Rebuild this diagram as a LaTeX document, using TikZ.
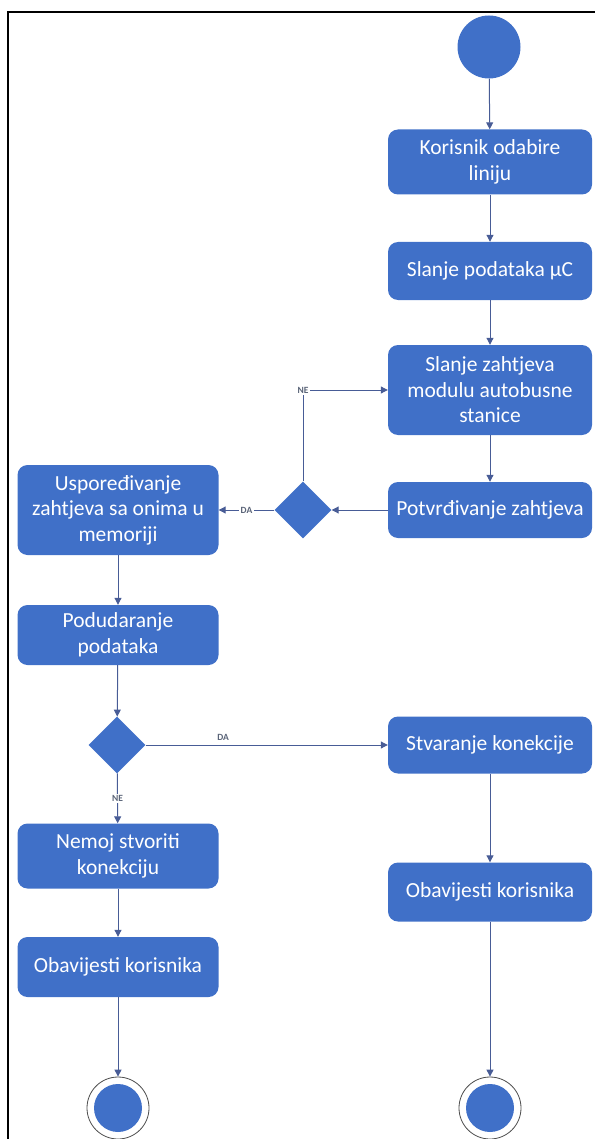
\documentclass[tikz,border=0pt]{standalone}
\usepackage{fontspec}
\setmainfont{Carlito}
\usetikzlibrary{shapes.geometric,arrows.meta}
\definecolor{boxblue}{RGB}{64,112,200}
\definecolor{arrowc}{RGB}{72,92,150}
\definecolor{labelc}{RGB}{90,100,120}
\tikzset{
  actbox/.style={draw=none, fill=boxblue, rounded corners=10pt, minimum width=204pt,
    text=white, font=\fontsize{21.5}{25.5}\selectfont, align=center, inner sep=1pt},
  decis/.style={diamond, fill=boxblue, draw=none, minimum width=57pt, minimum height=57pt, inner sep=0pt, aspect=1},
  startc/.style={circle, fill=boxblue, minimum size=63pt, inner sep=0pt},
  endouter/.style={circle, draw=black!70, line width=0.8pt, fill=white, minimum size=62pt, inner sep=0pt},
  endinner/.style={circle, fill=boxblue, minimum size=48pt, inner sep=0pt},
  arr/.style={draw=arrowc, line width=1pt, -{Triangle[width=7pt,length=7pt]}},
  lbl/.style={font=\fontsize{9.5}{11}\selectfont\bfseries, text=labelc, fill=white, inner sep=1.5pt},
  frame/.style={draw=black, line width=2pt}
}
\begin{document}
\begin{tikzpicture}[x=1pt,y=-1pt]
\useasboundingbox (0,0) rectangle (595,1139);
\draw[frame] (8,1139) -- (8,12) -- (595,12);

\node[startc] (s) at (489,47) {};
\node[actbox, minimum height=65pt] (b1) at (490,162) {Korisnik odabire\\liniju};
\node[actbox, minimum height=58pt] (b2) at (490,271) {Slanje podataka µC};
\node[actbox, minimum height=90pt] (b3) at (490,390) {Slanje zahtjeva\\modulu autobusne\\stanice};
\node[actbox, minimum height=56pt] (b4) at (490,510) {Potvrđivanje zahtjeva};
\node[decis] (d1) at (303,510) {};
\node[actbox, minimum width=201pt, minimum height=90pt] (b5) at (118,510) {Uspoređivanje\\zahtjeva sa onima u\\memoriji};
\node[actbox, minimum width=201pt, minimum height=60pt] (b6) at (118,635) {Podudaranje\\podataka};
\node[decis] (d2) at (117,745) {};
\node[actbox, minimum height=57pt] (b7) at (490,745) {Stvaranje konekcije};
\node[actbox, minimum width=201pt, minimum height=65pt] (b8) at (118,856) {Nemoj stvoriti\\konekciju};
\node[actbox, minimum width=201pt, minimum height=60pt] (b9) at (118,967) {Obavijesti korisnika};
\node[actbox, minimum height=59pt] (b10) at (490,892) {Obavijesti korisnika};
\node[endouter] (e1) at (118,1108) {};
\node[endinner] (e1i) at (e1) {};
\node[endouter] (e2) at (490,1108) {};
\node[endinner] (e2i) at (e2) {};

\draw[arr] (s) -- (b1);
\draw[arr] (b1) -- (b2);
\draw[arr] (b2) -- (b3);
\draw[arr] (b3) -- (b4);
\draw[arr] (b4) -- (d1);
\draw[arr] (d1) -- node[lbl] {DA} (b5);
\draw[arr] (d1.north) |- node[lbl, pos=0.5] {NE} (b3.west);
\draw[arr] (b5) -- (b6);
\draw[arr] (b6) -- (d2);
\draw[arr] (d2) -- node[lbl, pos=0.32, above=3pt, fill=none] {DA} (b7);
\draw[arr] (d2) -- node[lbl] {NE} (b8);
\draw[arr] (b8) -- (b9);
\draw[arr] (b9) -- (e1);
\draw[arr] (b7) -- (b10);
\draw[arr] (b10) -- (e2);
\end{tikzpicture}
\end{document}
